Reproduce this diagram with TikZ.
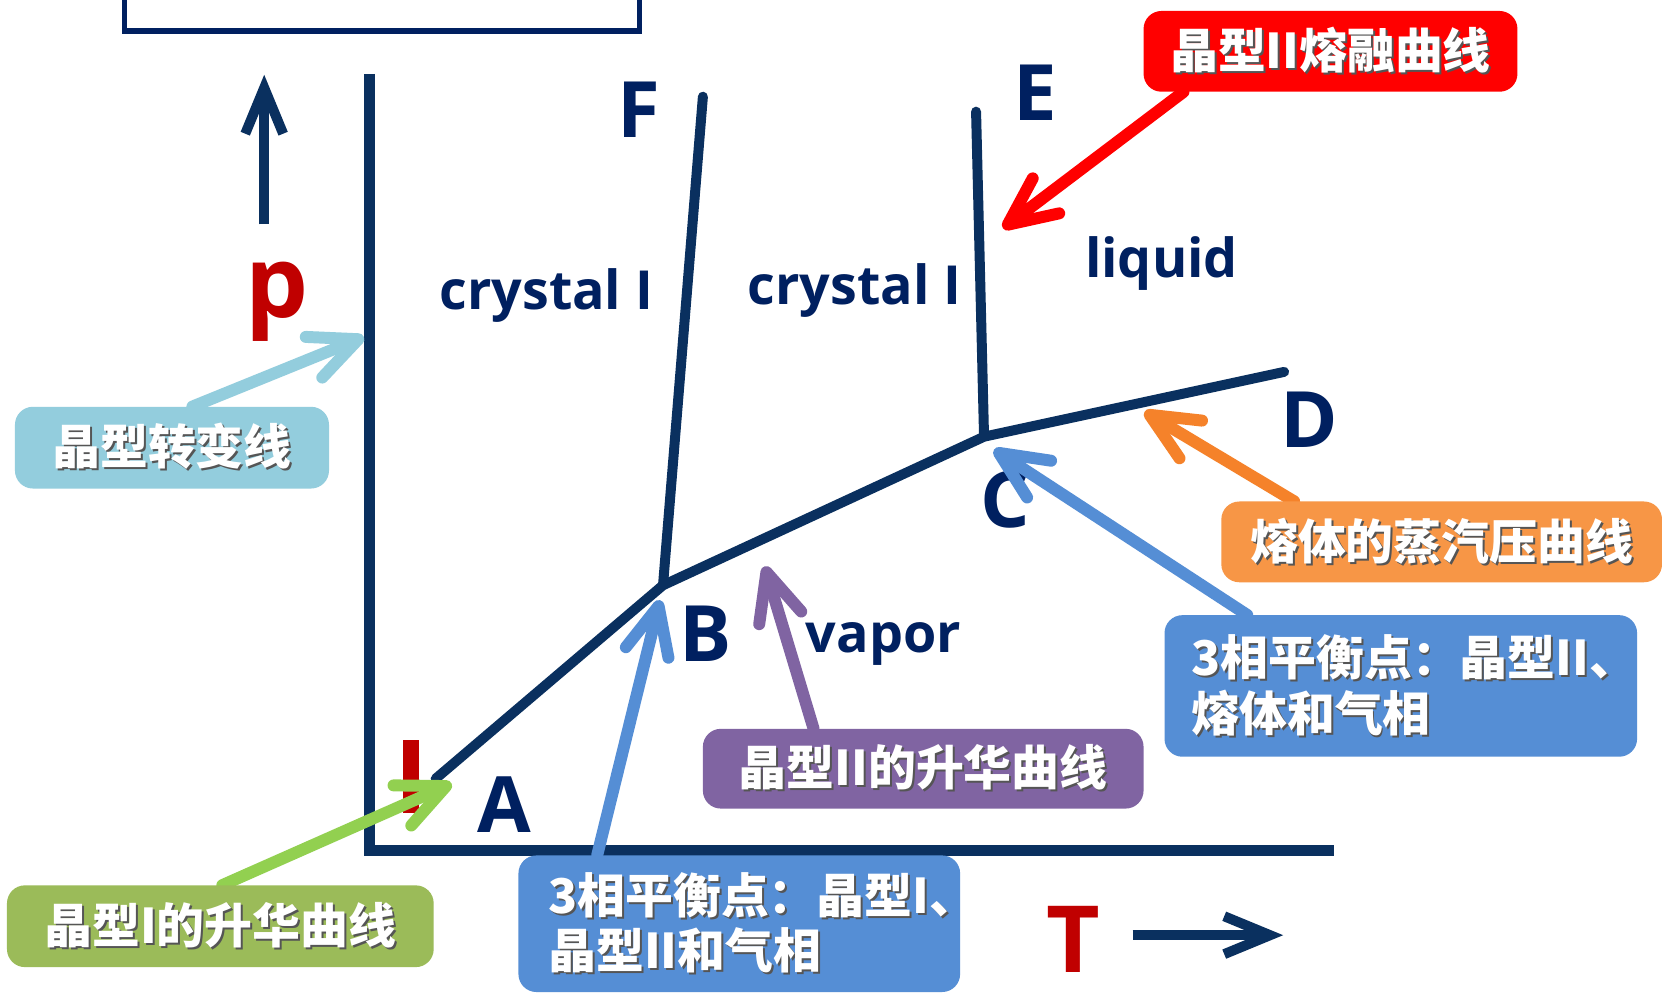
\documentclass[tikz,border=0pt]{standalone}
\usepackage{fontspec}
\newfontfamily\cjk{Noto Sans CJK SC}
\newfontfamily\lat{Open Sans}
\usetikzlibrary{arrows.meta}
\definecolor{navy}{RGB}{10,48,95}
\definecolor{labnavy}{RGB}{0,32,96}
\definecolor{darkred}{RGB}{192,0,0}
\definecolor{lblue}{RGB}{147,205,221}
\definecolor{gbox}{RGB}{155,187,89}
\definecolor{garrow}{RGB}{146,208,80}
\definecolor{bblue}{RGB}{85,142,213}
\definecolor{purp}{RGB}{128,100,162}
\definecolor{obox}{RGB}{247,150,70}
\definecolor{oarrow}{RGB}{245,130,42}
\definecolor{rbox}{RGB}{255,0,0}
\definecolor{shadowc}{RGB}{85,85,85}
\newcommand\shd[1]{\leavevmode\rlap{\kern2pt\raisebox{-2pt}{\color{shadowc}#1}}#1}
\pgfdeclarelayer{lines}
\pgfdeclarelayer{callouts}
\pgfsetlayers{lines,callouts,main}
\begin{document}
\begin{tikzpicture}[x=1pt,y=-1pt,
 curve/.style={draw=navy,line width=10pt,line cap=round,line join=round},
 axisline/.style={draw=navy,line width=11pt,line join=miter},
 callout/.style={line width=12pt,line cap=round,-{Straight Barb[length=48pt,width=44pt,round]}},
 axarrow/.style={draw=navy,line width=10pt,-{Straight Barb[length=46pt,width=38pt]}},
 tag/.style={rounded corners=18pt,text=white,font=\cjk\bfseries\fontsize{48}{56}\selectfont,inner sep=0pt},
 ptlabel/.style={text=labnavy,font=\lat\bfseries\fontsize{78}{90}\selectfont,inner sep=0pt},
 region/.style={text=labnavy,font=\lat\bfseries\fontsize{54}{64}\selectfont,inner sep=0pt,anchor=base},
 axlabel/.style={text=darkred,font=\lat\bfseries\fontsize{100}{110}\selectfont,inner sep=0pt,anchor=base}
]
\begin{pgfonlayer}{lines}
\fill[white] (0,0) rectangle (1662,996);
\useasboundingbox (0,0) rectangle (1662,996);
% title box (cut off)
\draw[draw=labnavy,line width=5.5pt] (125,-20) rectangle (641.5,31);
% coordinates
\coordinate (A) at (437,781);
\coordinate (B) at (665,587);
\coordinate (C) at (987,438);
\coordinate (Dend) at (1288,373);
\coordinate (Etop) at (979,112);
\coordinate (Ftop) at (705,97);
\coordinate (ytop) at (371,74);
\coordinate (origin) at (371,853);
\coordinate (xend) at (1338,853);
\draw[axisline] (ytop) -- (origin) -- (xend);
\draw[curve] (A) -- (B) -- (C) -- (Dend);
\draw[curve] (B) -- (Ftop);
\draw[curve] (C) -- (Etop);
\fill[darkred] (404,742) rectangle (420,815);
% point labels
\node[ptlabel] (Flab) at (641,110) {F};
\node[ptlabel] (Elab) at (1038,93) {E};
\node[ptlabel] (Dlab) at (1313,421) {D};
\node[ptlabel] (Clab) at (1008,501) {C};
\node[ptlabel] (Blab) at (708,636) {B};
\node[ptlabel] (Alab) at (506,807) {A};
% region labels
\node[region] (cryst1) at (548,310) {crystal I};
\node[region] (cryst2) at (857,305) {crystal I};
\node[region] (liq) at (1165,278) {liquid};
\node[region] (vap) at (886,654) {vapor};
% axis labels
\node[axlabel] (plab) at (278,318) {p};
\node[axlabel,font=\lat\bfseries\fontsize{93}{100}\selectfont] (Tlab) at (1077,975) {T};
\coordinate (ptail) at (265,225);
\coordinate (ptip) at (265,75);
\coordinate (ttail) at (1136,938);
\coordinate (ttip) at (1287,938);
\draw[axarrow] (ptail) -- (ptip);
\draw[axarrow] (ttail) -- (ttip);
\end{pgfonlayer}
% tags
\node[tag,fill=lblue,minimum width=315pt,minimum height=82pt] (tagTrans) at (172.5,449) {\shd{晶型转变线}};
\node[tag,fill=gbox,minimum width=428pt,minimum height=82pt] (tagSubI) at (221,929) {\shd{晶型I的升华曲线}};
\node[tag,fill=bblue,minimum width=443pt,minimum height=137pt,align=left,text width=383pt] (tagB) at (741.5,926.5) {\shd{3相平衡点：晶型I、}\\\shd{晶型II和气相}};
\node[tag,fill=purp,minimum width=442pt,minimum height=80pt] (tagSubII) at (926,771) {\shd{晶型II的升华曲线}};
\node[tag,fill=bblue,minimum width=474pt,minimum height=142pt,align=left,text width=420pt] (tagC) at (1405,688) {\shd{3相平衡点：晶型II、}\\\shd{熔体和气相}};
\node[tag,fill=obox,minimum width=442pt,minimum height=81pt] (tagVap) at (1446,543.5) {\shd{熔体的蒸汽压曲线}};
\node[tag,fill=rbox,minimum width=375pt,minimum height=81pt] (tagMelt) at (1334.5,51.5) {\shd{晶型II熔融曲线}};
% tips
\coordinate (tipTrans) at (365,338);
\coordinate (tipSubI) at (453,786);
\coordinate (tipB) at (662,602);
\coordinate (tipSubII) at (767,568);
\coordinate (tipC) at (997,451);
\coordinate (tipVap) at (1148,413);
\coordinate (tipMelt) at (1006,229);
\begin{pgfonlayer}{callouts}
\draw[callout,draw=lblue] ([xshift=20.5pt]tagTrans.north) -- (tipTrans);
\draw[callout,draw=garrow] ([xshift=2pt]tagSubI.north) -- (tipSubI);
\draw[callout,draw=bblue] ([xshift=-142.5pt]tagB.north) -- (tipB);
\draw[callout,draw=purp] ([xshift=-110pt]tagSubII.north) -- (tipSubII);
\draw[callout,draw=bblue] ([xshift=-154pt]tagC.north) -- (tipC);
\draw[callout,draw=oarrow] ([xshift=-148pt]tagVap.north) -- (tipVap);
\draw[callout,draw=rbox] ([xshift=-147.5pt]tagMelt.south) -- (tipMelt);
\end{pgfonlayer}
\end{tikzpicture}
\end{document}
